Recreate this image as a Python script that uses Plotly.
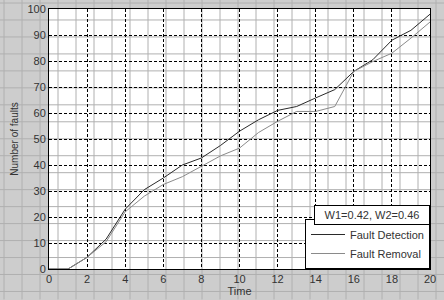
import plotly.graph_objects as go

time = list(range(0, 21))
fault_detection = [0, 0, 4.5, 11.5, 23, 30.5, 35, 40, 42.7, 47.5, 53, 57.4, 61, 62.5, 65.8, 69, 76, 80.5, 88, 91.8, 98]
fault_removal = [0, 0, 4.5, 10.5, 22, 28, 32.5, 35.5, 39.5, 43.5, 46.5, 52.5, 56.8, 60.6, 60.6, 62.5, 76, 79.8, 83, 88.8, 95]
x_ticks = list(range(0, 21, 2))
y_ticks = list(range(0, 101, 10))

fig = go.Figure()
fig.add_trace(go.Scatter(x=time, y=fault_detection, mode="lines", name="Fault Detection",
                         line=dict(color="#2a2a2a", width=1)))
fig.add_trace(go.Scatter(x=time, y=fault_removal, mode="lines", name="Fault Removal",
                         line=dict(color="#8a8a8a", width=1)))

# plot area in pixels: left 49, right 430, top 9, bottom 269.5
PL, PR, PT, PB = 49, 430, 9, 269.5
PW, PH = PR - PL, PB - PT

# decorative background paper grid (outside plot area)
shapes = []
W, H = 444, 300
for px in range(4, W, 18):
    shapes.append(dict(type="line", xref="paper", yref="paper", layer="below",
                       x0=(px - PL) / PW, x1=(px - PL) / PW, y0=-(H - PB) / PH, y1=PB / PH,
                       line=dict(color="#b0b0b0", width=1)))
for py in range(3, H, 17):
    shapes.append(dict(type="line", xref="paper", yref="paper", layer="below",
                       x0=-PL / PW, x1=(W - PL) / PW, y0=(PB - py) / PH, y1=(PB - py) / PH,
                       line=dict(color="#b0b0b0", width=1)))
fig.update_layout(shapes=shapes)

fig.update_layout(
    width=W, height=H,
    margin=dict(l=PL, r=W - PR, t=PT, b=H - PB, autoexpand=False),
    paper_bgcolor="#cdcdcd",
    plot_bgcolor="white",
    font=dict(family="Liberation Sans, Arial", size=11, color="#333333"),
    showlegend=True,
    legend=dict(x=1, y=0, xanchor="right", yanchor="bottom",
                bgcolor="white", bordercolor="black", borderwidth=1,
                font=dict(size=11, color="#333333"),
                tracegroupgap=0, itemwidth=34),
)
fig.update_xaxes(range=[0, 20], tickvals=x_ticks, showline=True, linecolor="black", linewidth=1,
                 mirror=True, showgrid=True, gridcolor="black", griddash="3px,2px", gridwidth=1,
                 ticks="", zeroline=False, automargin=False,
                 title=dict(text="Time", font=dict(size=11, color="#333333"), standoff=0))
fig.update_yaxes(range=[0, 100], tickvals=y_ticks, showline=True, linecolor="black", linewidth=1,
                 mirror=True, showgrid=True, gridcolor="black", griddash="3px,2px", gridwidth=1,
                 ticks="", zeroline=False, automargin=False,
                 title=dict(text="Number of faults", font=dict(size=10, color="#333333"), standoff=6))

fig.add_annotation(xref="paper", yref="paper", x=1, y=(PB - 205) / PH,
                   xanchor="right", yanchor="top",
                   text="W1=0.42, W2=0.46", showarrow=False,
                   font=dict(size=11, color="#333333"),
                   bgcolor="white", bordercolor="black", borderwidth=1, borderpad=3,
                   width=108, align="center")

fig.write_html("out.html", config={"displayModeBar": False},
               post_script="document.body.style.margin='0';")
